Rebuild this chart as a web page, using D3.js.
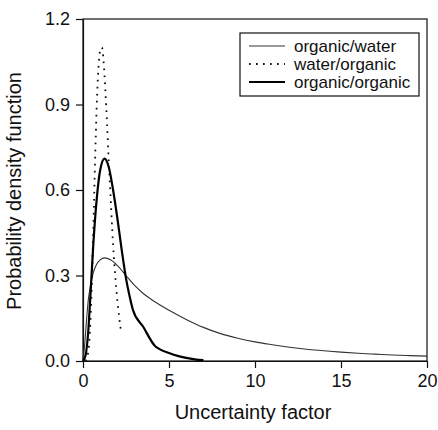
<!DOCTYPE html>
<html>
<head>
<meta charset="utf-8">
<script src="https://cdn.jsdelivr.net/npm/d3@7"></script>
<style>
  body { margin: 0; background: #fff; }
  text { font-family: "Liberation Sans", Arial, sans-serif; fill: #111; }
</style>
</head>
<body>
<div id="chart"></div>
<script>
// --- Data ---
const xTicks = [0, 5, 10, 15, 20];
const yTicks = [0, 0.3, 0.6, 0.9, 1.2];
const seriesNames = ["organic/water", "water/organic", "organic/organic"];

// organic/water (thin solid)
const owX = [0, 0.1, 0.2, 0.3, 0.45, 0.6, 0.8, 1.0, 1.25, 1.6, 2.0, 2.5, 3.0, 3.5, 4.0, 5, 6, 7, 8, 9, 10, 11, 12, 13, 14, 15, 16, 17, 18, 19, 20];
const owY = [0, 0.06, 0.14, 0.21, 0.27, 0.31, 0.34, 0.355, 0.362, 0.355, 0.335, 0.30, 0.265, 0.237, 0.215, 0.178, 0.146, 0.118, 0.096, 0.08, 0.067, 0.057, 0.048, 0.041, 0.036, 0.031, 0.027, 0.024, 0.021, 0.019, 0.017];

// water/organic (dotted)
const woX = [0.15, 0.3, 0.4, 0.5, 0.6, 0.7, 0.8, 0.9, 1.0, 1.1, 1.2, 1.3, 1.4, 1.5, 1.6, 1.7, 1.8, 1.9, 2.0, 2.1, 2.22];
const woY = [0, 0.03, 0.1, 0.25, 0.46, 0.7, 0.9, 1.03, 1.09, 1.1, 1.05, 0.95, 0.83, 0.7, 0.58, 0.46, 0.36, 0.28, 0.21, 0.155, 0.1];

// organic/organic (thick solid)
const ooX = [0, 0.15, 0.3, 0.45, 0.6, 0.8, 1.0, 1.25, 1.5, 1.75, 2.0, 2.25, 2.5, 2.7, 2.9, 3.5, 4.2, 4.5, 5.0, 5.5, 6.0, 6.5, 7.0];
const ooY = [0, 0.02, 0.1, 0.25, 0.41, 0.57, 0.67, 0.71, 0.68, 0.6, 0.5, 0.39, 0.29, 0.23, 0.18, 0.12, 0.052, 0.04, 0.028, 0.018, 0.011, 0.006, 0.003];

// --- Layout ---
const W = 438, H = 430;
const margin = { top: 19, right: 11, bottom: 69, left: 83 };
const width = W - margin.left - margin.right,
      height = H - margin.top - margin.bottom;

const svg = d3.select("#chart").append("svg")
    .attr("width", W)
    .attr("height", H)
  .append("g")
    .attr("transform", `translate(${margin.left},${margin.top})`);

const x = d3.scaleLinear().domain([0, 20]).range([0, width]);
const y = d3.scaleLinear().domain([0, 1.2]).range([height, 0]);

// frame
svg.append("rect")
   .attr("x", 0).attr("y", 0)
   .attr("width", width).attr("height", height)
   .attr("fill", "none")
   .attr("stroke", "#111")
   .attr("stroke-width", 1.2);

// --- Axes ---
const xAxis = svg.append("g")
   .attr("transform", `translate(0,${height})`)
   .call(d3.axisBottom(x).tickValues(xTicks).tickSize(7).tickSizeOuter(0).tickPadding(6).tickFormat(d3.format("d")));
xAxis.selectAll("text").style("font-size", "18px");

const yAxis = svg.append("g")
   .call(d3.axisLeft(y).tickValues(yTicks).tickSize(7).tickSizeOuter(0).tickPadding(6).tickFormat(d3.format(".1f")));
yAxis.selectAll("text").style("font-size", "18px");

svg.selectAll(".domain, .tick line").attr("stroke", "#111").attr("stroke-width", 1.2);

svg.append("text")
   .attr("x", width / 2 - 2)
   .attr("y", height + 58)
   .attr("text-anchor", "middle")
   .style("font-size", "20px")
   .text("Uncertainty factor");

svg.append("text")
   .attr("transform", `translate(${-62},${height / 2 + 1}) rotate(-90)`)
   .attr("text-anchor", "middle")
   .style("font-size", "20px")
   .text("Probability density function");

// --- Lines ---
const series = [
  { name: seriesNames[0], xs: owX, ys: owY, width: 1.1, color: "#333", dash: null },
  { name: seriesNames[1], xs: woX, ys: woY, width: 1.8, color: "#111", dash: "1.7,5.3" },
  { name: seriesNames[2], xs: ooX, ys: ooY, width: 2.2, color: "#000", dash: null }
];

const line = d3.line()
  .x(d => x(d[0]))
  .y(d => y(d[1]))
  .curve(d3.curveMonotoneX);

svg.selectAll(".series")
   .data(series)
   .enter()
   .append("path")
     .attr("class", "series")
     .attr("fill", "none")
     .attr("stroke", d => d.color)
     .attr("stroke-width", d => d.width)
     .attr("stroke-dasharray", d => d.dash)
     .attr("d", d => line(d.xs.map((v, i) => [v, d.ys[i]])));

// --- Legend ---
const legend = svg.append("g")
   .attr("transform", `translate(${157},${14})`);

legend.append("rect")
   .attr("width", 179)
   .attr("height", 63)
   .attr("fill", "#fff")
   .attr("stroke", "#111")
   .attr("stroke-width", 1.2);

series.forEach((s, i) => {
  const row = legend.append("g").attr("transform", `translate(0,${13 + i * 18})`);
  row.append("line")
     .attr("x1", 9).attr("x2", 45)
     .attr("y1", 0).attr("y2", 0)
     .attr("stroke", s.color)
     .attr("stroke-width", s.width)
     .attr("stroke-dasharray", s.dash);
  row.append("text")
     .attr("x", 54)
     .attr("y", 6)
     .style("font-size", "17px")
     .text(s.name);
});
</script>
</body>
</html>
